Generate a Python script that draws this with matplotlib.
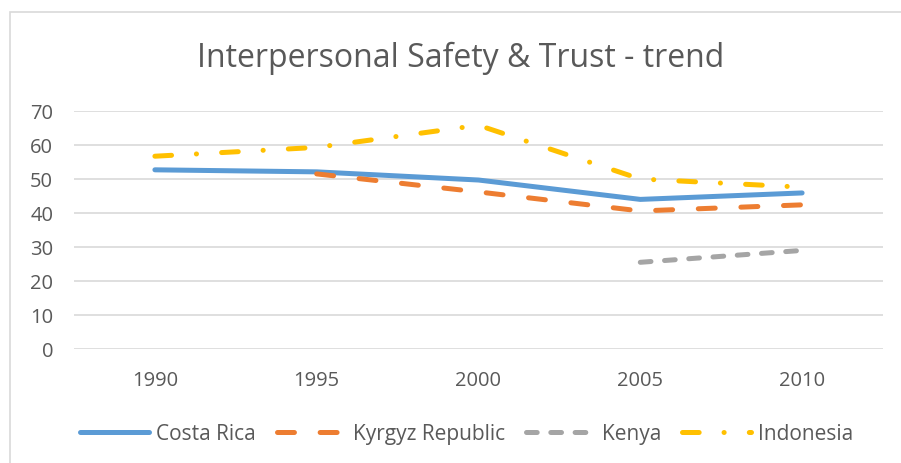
import matplotlib
matplotlib.use("Agg")
import matplotlib.pyplot as plt
from matplotlib.patches import Rectangle

years = ["1990", "1995", "2000", "2005", "2010"]
costa_rica = [52.7, 52.1, 49.7, 44.0, 45.9]
kyrgyz = [None, 51.5, 46.2, 40.6, 42.4]
kenya = [None, None, None, 25.5, 29.0]
indonesia = [56.7, 59.3, 65.8, 50.0, 47.6]

plt.rcParams['font.family'] = ['Open Sans', 'DejaVu Sans']
plt.rcParams['lines.scale_dashes'] = False

fig = plt.figure(figsize=(9.01, 4.64), dpi=100)
ax = fig.add_axes([74/901, 1-350/464, (883-74)/901, (350-112)/464])

def series(vals):
    xs = [i for i, v in enumerate(vals) if v is not None]
    ys = [v for v in vals if v is not None]
    return xs, ys

lw = 3.6
x, y = series(costa_rica)
ax.plot(x, y, color='#5B9BD5', lw=lw, solid_capstyle='round', solid_joinstyle='round',
        label='Costa Rica', clip_on=False)
x, y = series(kyrgyz)
ax.plot(x, y, color='#ED7D31', lw=lw, dashes=(12.2, 18.5), dash_capstyle='round',
        label='Kyrgyz Republic', clip_on=False)
x, y = series(kenya)
ax.plot(x, y, color='#A5A5A5', lw=lw, dashes=(7.7, 9.8), dash_capstyle='round',
        label='Kenya', clip_on=False)
x, y = series(indonesia)
ax.plot(x, y, color='#FFC000', lw=lw, dashes=(12, 17.9, 0.1, 18.1), dash_capstyle='round',
        label='Indonesia', clip_on=False)

ax.set_xlim(-0.5, 4.5)
ax.set_ylim(0, 70)
ax.set_yticks(range(0, 71, 10))
ax.set_xticks(range(len(years)))
ax.set_xticklabels(years)
ax.grid(axis='y', color='#D9D9D9', lw=1.2)
ax.set_axisbelow(True)
for s in ax.spines.values():
    s.set_visible(False)
ax.tick_params(axis='both', length=0, labelsize=14.5, labelcolor='#595959')
ax.tick_params(axis='y', pad=15)
ax.tick_params(axis='x', pad=15)

fig.text(461/901, 1-58/464, 'Interpersonal Safety & Trust - trend', ha='center', va='center',
         fontsize=23, color='#595959', fontweight='normal')

fig.legend(loc='center', bbox_to_anchor=(467/901, 1-435/464), ncol=4, frameon=False,
           fontsize=15, handlelength=3.3, handletextpad=0.35, columnspacing=1.0,
           labelcolor='#595959')

fig.patches.append(Rectangle((10/901, -0.01), 1.0, 1-13/464+0.01, transform=fig.transFigure,
                             fill=False, edgecolor='#D9D9D9', lw=1.2))

fig.savefig('out.png', dpi=100)
